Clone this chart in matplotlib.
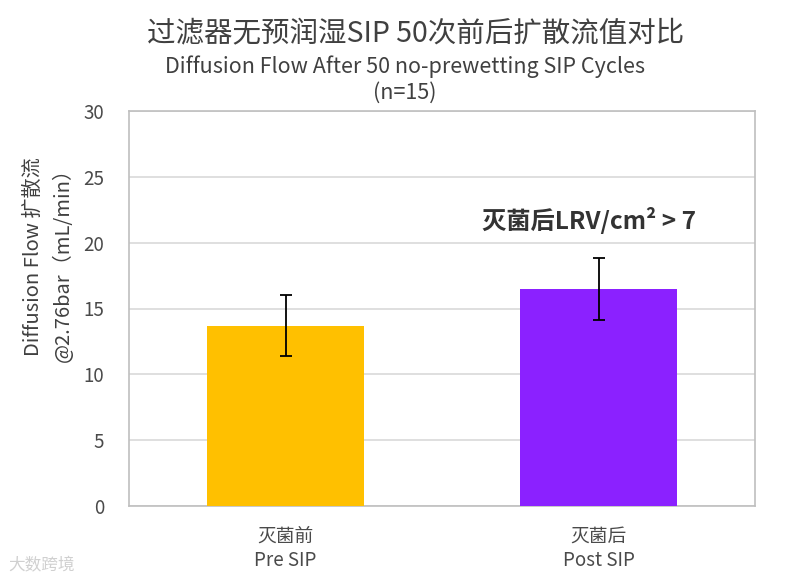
import numpy as np
import matplotlib
matplotlib.use("Agg")
import matplotlib.pyplot as plt

plt.rcParams['font.family'] = ['Noto Sans CJK SC', 'DejaVu Sans']

# data
categories = ["灭菌前\nPre SIP", "灭菌后\nPost SIP"]
flow_mean = [13.7, 16.5]
flow_err = [2.3, 2.35]
bar_colors = ["#FFC000", "#8B21FF"]
yticks = [0, 5, 10, 15, 20, 25, 30]

fig = plt.figure(figsize=(7.85, 5.82), dpi=100)
ax = fig.add_axes([129/785, 1-506/582, 626/785, 395/582])

x = np.arange(len(categories))
ax.bar(x, flow_mean, width=0.5, color=bar_colors, zorder=3)
ax.errorbar(x, flow_mean, yerr=flow_err, fmt='none', ecolor='black',
            elinewidth=1.3, capsize=4, capthick=1.3, zorder=4)

ax.set_xlim(-0.5, 1.5)
ax.set_ylim(0, 30)
ax.set_yticks(yticks)
ax.set_xticks(x)
ax.set_xticklabels(categories, fontsize=13.5, color='#404040', linespacing=1.2)
ax.tick_params(axis='both', length=0, colors='#4a4a4a', labelsize=13.5)
ax.tick_params(axis='y', pad=18)
ax.tick_params(axis='x', pad=14)
ax.grid(axis='y', color='#d9d9d9', linewidth=1.2, zorder=0)
for s in ax.spines.values():
    s.set_color('#bfbfbf')
    s.set_linewidth(1.2)

# titles
fig.text(416/785, 1-33/582, "过滤器无预润湿SIP 50次前后扩散流值对比",
         ha='center', va='center', fontsize=20.5, color='#404040')
fig.text(405/785, 1-67/582, "Diffusion Flow After 50 no-prewetting SIP Cycles",
         ha='center', va='center', fontsize=15.5, color='#404040')
fig.text(405/785, 1-93/582, "(n=15)",
         ha='center', va='center', fontsize=15.5, color='#404040')

# y label
fig.text(33/785, 1-257/582, "Diffusion Flow 扩散流", rotation=90,
         ha='center', va='center', fontsize=14.5, color='#404040')
fig.text(63/785, 1-260/582, "@2.76bar（mL/min）", rotation=90,
         ha='center', va='center', fontsize=14.5, color='#404040')

# annotation
ax.text(0.97, 21.7, "灭菌后LRV/cm² > 7", ha='center', va='center',
        fontsize=17.5, fontweight='bold', color='#333333')

# watermark
fig.text(8/785, 1-566/582, "大数跨境", ha='left', va='center',
         fontsize=12, color='#d0d0d0')

fig.savefig("out.png", dpi=100)
